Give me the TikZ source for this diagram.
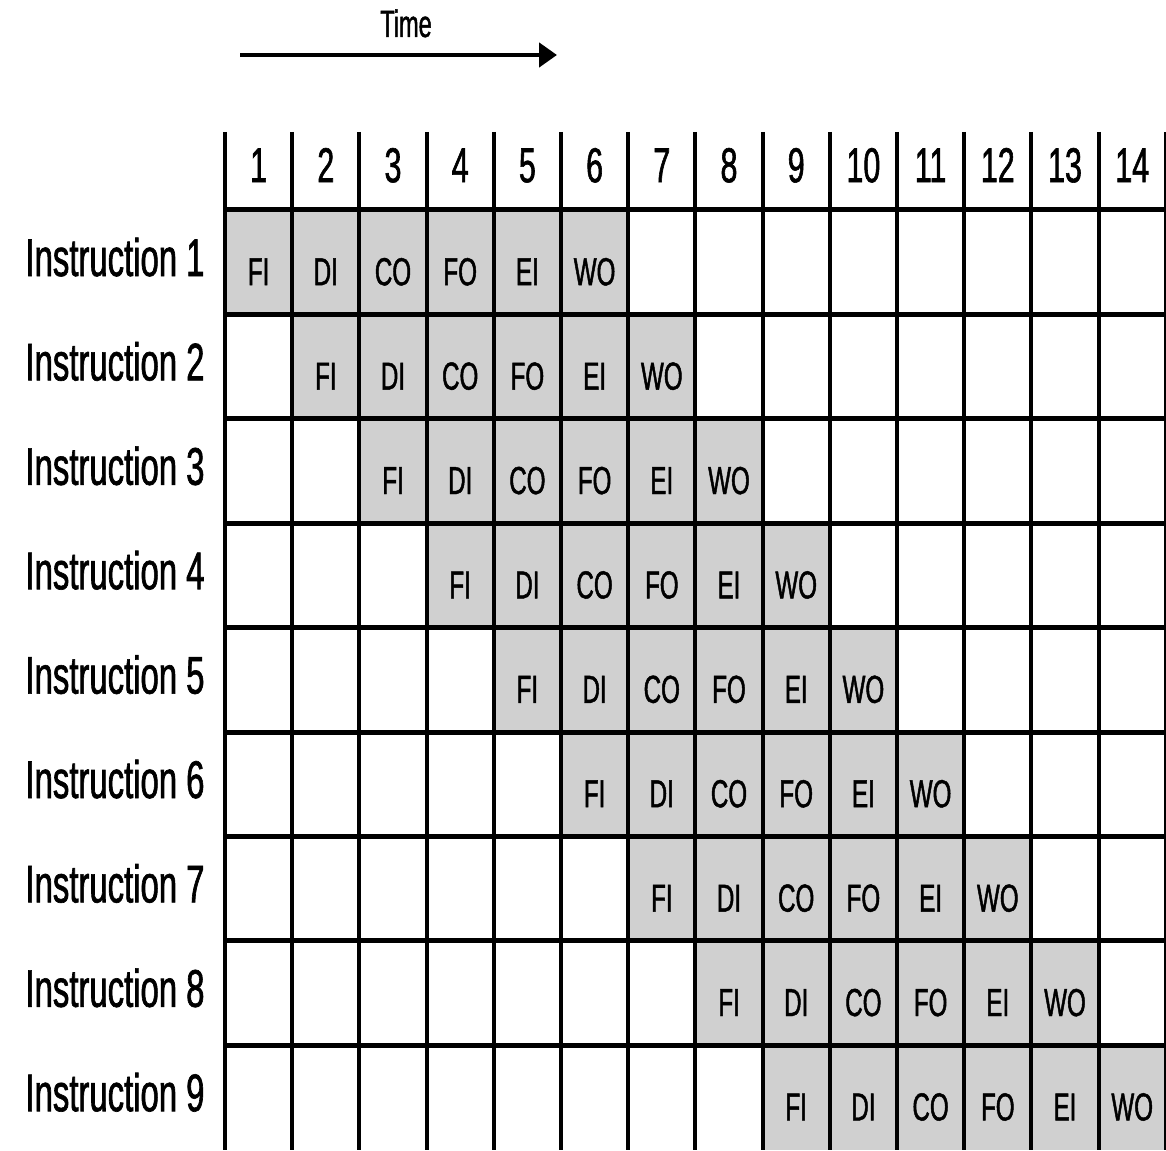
\documentclass[tikz,border=0pt]{standalone}
\usepackage{fontspec}
\setmainfont{Liberation Sans}[FakeStretch=0.62, FakeBold=1.2]
\usetikzlibrary{arrows.meta}

\definecolor{stagegray}{RGB}{208,208,208}

\begin{document}
\begin{tikzpicture}[
  x=1pt, y=-1pt,
  stagebox/.style={rectangle, fill=stagegray, anchor=north,
    inner sep=0pt, minimum width=67.2pt,
    text height=75pt, text depth=29.4pt,
    font=\fontsize{39}{40}\selectfont},
  stepnum/.style={anchor=north, inner sep=0pt,
    text height=52pt, text depth=28pt,
    font=\fontsize{49}{50}\selectfont},
  instlabel/.style={anchor=base, inner sep=0pt,
    font=\fontsize{53}{54}\selectfont},
  timelabel/.style={anchor=base, inner sep=0pt,
    font=\fontsize{38}{40}\selectfont},
  gridv/.style={line width=4pt},
  gridh/.style={line width=5pt},
  timearrow/.style={-{Triangle[length=18pt, width=24pt]}, line width=4.5pt}
]
\useasboundingbox (0,0) rectangle (1166,1150);

% time arrow
\node[timelabel] (time) at (406,37) {Time};
\coordinate (tstart) at (240,55);
\coordinate (tend) at (557,55);
\draw[timearrow] (tstart) -- (tend);

% clock cycles
\foreach \col in {1,...,14}
  \node[stepnum] (num-\col) at ({225+(\col-0.5)*67.2},130) {\col};

% instructions and their stages
\foreach \r in {1,...,9}{
  \node[instlabel] (inst-\r) at (115,{210+(\r-1)*104.4+66}) {Instruction \r};
  \foreach \s [count=\k from 0] in {FI,DI,CO,FO,EI,WO}{
    \pgfmathtruncatemacro\col{\r+\k}
    \node[stagebox] (stage-\r-\col) at ({225+(\col-0.5)*67.2},{210+(\r-1)*104.4}) {\s};
  }
}

% grid
\foreach \col in {0,...,14}
  \draw[gridv] ({225+\col*67.2},132) -- ({225+\col*67.2},1150);
\foreach \r in {0,...,8}
  \draw[gridh] (225,{210+\r*104.4}) -- (1166,{210+\r*104.4});

\end{tikzpicture}
\end{document}
